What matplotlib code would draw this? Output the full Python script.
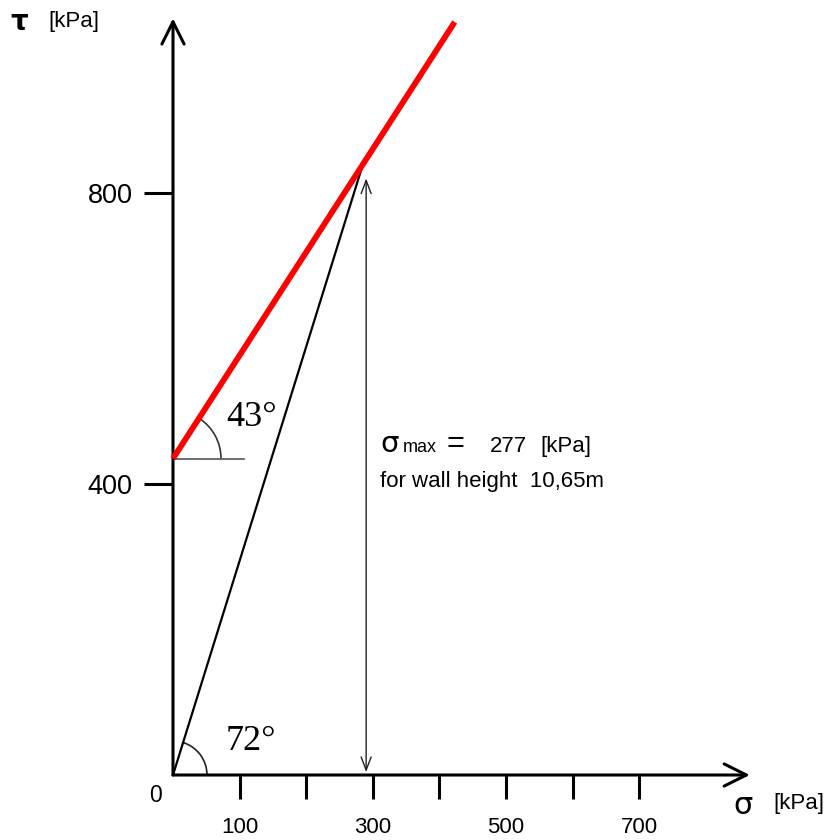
import numpy as np
import matplotlib.pyplot as plt
from matplotlib.patches import Arc

plt.rcParams['font.family'] = ['Liberation Sans', 'DejaVu Sans']

# values in kPa
x_ticks = [100, 200, 300, 400, 500, 600, 700]
x_labels = ['100', '', '300', '', '500', '', '700']
y_ticks = [400, 800]
y_labels = ['400', '800']

env_sigma = [0, 423]      # red line
env_tau = [435, 1035]
path_sigma = [0, 285]     # black line
path_tau = [0, 839]
arrow_sigma = 290         # vertical double arrow
arrow_tau = [4, 820]
axis_end = [866, 1040]    # arrow tips of the two axes
ref_len = 107             # horizontal reference line at the red line start

# pixel scale of the drawing
W, H = 831, 840
sx, sy = 0.666, 0.7275    # px per kPa
x0, y0 = 173, 775         # origin in px (from top left)

def fx(p):
    return p / W

def fy(p):
    return 1 - p / H

fig = plt.figure(figsize=(W / 100, H / 100), dpi=100)
ax = fig.add_axes([0, 0, 1, 1])
ax.set_xlim(-x0 / sx, (W - x0) / sx)
ax.set_ylim(-(H - y0) / sy, y0 / sy)

for s in ['top', 'right']:
    ax.spines[s].set_visible(False)
for s in ['left', 'bottom']:
    ax.spines[s].set_position(('data', 0))
    ax.spines[s].set_color('none')

ax.set_xticks(x_ticks)
ax.set_xticklabels(x_labels)
ax.set_yticks(y_ticks)
ax.set_yticklabels(y_labels)
ax.tick_params(axis='x', direction='out', length=17, width=2.2, pad=13, labelsize=16)
ax.tick_params(axis='y', direction='out', length=21, width=2.2, pad=8, labelsize=19.5)

# axes with arrow heads
axprops = dict(arrowstyle='->,head_length=0.8,head_width=0.4', lw=2.2, color='black',
               mutation_scale=20, shrinkA=0, shrinkB=0)
ax.annotate('', xy=(axis_end[0], 0), xytext=(0, 0), arrowprops=axprops)
ax.annotate('', xy=(0, axis_end[1]), xytext=(0, 0), arrowprops=axprops)

# lines
ax.plot(env_sigma, env_tau, color='#ff0000', lw=4.2, solid_capstyle='butt', zorder=3)
ax.plot(path_sigma, path_tau, color='black', lw=1.6, zorder=2)
ax.plot([0, ref_len], [env_tau[0], env_tau[0]], color='#555555', lw=1.2)

# sigma max arrow
ax.annotate('', xy=(arrow_sigma, arrow_tau[0]), xytext=(arrow_sigma, arrow_tau[1]),
            arrowprops=dict(arrowstyle='<->,head_length=0.95,head_width=0.36', lw=1.0,
                            color='#222222', mutation_scale=10, shrinkA=0, shrinkB=0))

# angle arcs
a1 = np.degrees(np.arctan2(path_tau[1] - path_tau[0], path_sigma[1] - path_sigma[0]))
a2 = np.degrees(np.arctan2(env_tau[1] - env_tau[0], env_sigma[1] - env_sigma[0]))
ax.add_patch(Arc((0, 0), 2 * 34 / sx, 2 * 34 / sy, theta1=0, theta2=a1, lw=1.2, color='#222222'))
ax.add_patch(Arc((0, env_tau[0]), 2 * 48 / sx, 2 * 48 / sy, theta1=0, theta2=a2, lw=1.2, color='#333333'))

# texts
fig.text(fx(19), fy(22), 'τ', fontsize=20, fontweight='bold', family='DejaVu Sans', ha='center', va='center')
fig.text(fx(48), fy(22), '[kPa]', fontsize=16, ha='left', va='center')
fig.text(fx(743), fy(805), 'σ', fontsize=22, family='DejaVu Sans', ha='center', va='center')
fig.text(fx(773), fy(804), '[kPa]', fontsize=16, ha='left', va='center')
fig.text(fx(155), fy(796), '0', fontsize=16.5, ha='center', va='center')

fig.text(fx(226), fy(418), '43°', fontsize=26, family='Liberation Serif', ha='left', va='center')
fig.text(fx(226), fy(741), '72°', fontsize=26, family='Liberation Serif', ha='left', va='center')

fig.text(fx(380), fy(452), 'σ', fontsize=21, family='DejaVu Sans', ha='left', va='baseline')
fig.text(fx(403), fy(452), 'max', fontsize=13, ha='left', va='baseline')
fig.text(fx(446), fy(452), '=', fontsize=22, ha='left', va='baseline')
fig.text(fx(490), fy(452), str(277), fontsize=16, ha='left', va='baseline')
fig.text(fx(540), fy(452), '[kPa]', fontsize=16, ha='left', va='baseline')
fig.text(fx(380), fy(487), 'for wall height  10,65m', fontsize=16, ha='left', va='baseline')

fig.savefig('out.png', dpi=100)
